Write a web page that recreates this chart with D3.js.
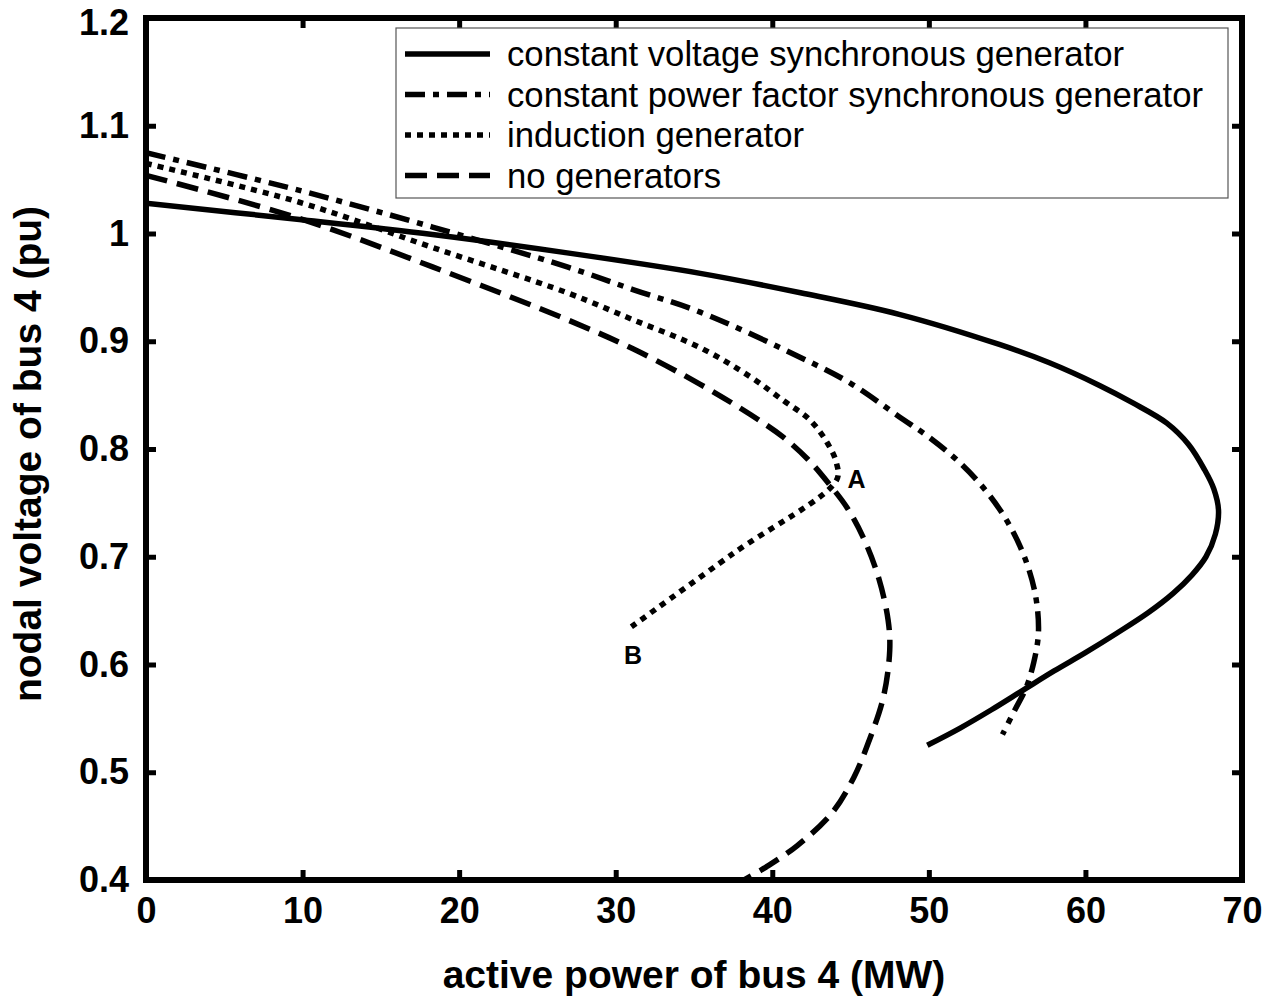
<!DOCTYPE html>
<html>
<head>
<meta charset="utf-8">
<script src="https://cdn.jsdelivr.net/npm/d3@7/dist/d3.min.js"></script>
<style>
  html, body { margin: 0; padding: 0; background: #fff; }
  svg { display: block; }
  text { font-family: "Liberation Sans", Arial, sans-serif; }
</style>
</head>
<body>
<svg id="chart" width="1264" height="998"></svg>
<script>
// P-V curves at bus 4: active power (MW) vs nodal voltage (pu)
const constVoltageP = [0, 9.8, 18.3, 26.9, 35.4, 41.8, 48.1, 54.5, 57.7, 60.9, 63.0, 65.2, 66.6, 67.6, 68.2, 68.5, 68.3, 67.7, 66.8, 65.6, 64.0, 62.0, 60.0, 58.0, 56.0, 54.0, 52.0, 49.9];
const constVoltageV = [1.028, 1.013, 0.999, 0.982, 0.963, 0.945, 0.925, 0.897, 0.880, 0.859, 0.843, 0.824, 0.804, 0.781, 0.763, 0.743, 0.721, 0.700, 0.683, 0.666, 0.648, 0.629, 0.611, 0.594, 0.576, 0.558, 0.541, 0.525];

const constPfP = [0, 9.8, 18.3, 26.9, 31.1, 35.4, 41.8, 45.0, 48.1, 50.1, 52.0, 53.6, 55.0, 56.1, 56.8, 57.0, 56.7, 56.2, 55.5, 54.7];
const constPfV = [1.075, 1.040, 1.006, 0.969, 0.948, 0.927, 0.885, 0.861, 0.830, 0.810, 0.787, 0.762, 0.733, 0.700, 0.665, 0.630, 0.602, 0.578, 0.558, 0.535];

const inductionP = [0, 9.8, 18.3, 26.9, 31.1, 35.4, 38.6, 40.7, 42.4, 43.5, 44.1, 44.1, 37.5, 31.0];
const inductionV = [1.065, 1.029, 0.987, 0.945, 0.920, 0.894, 0.867, 0.845, 0.827, 0.806, 0.787, 0.771, 0.703, 0.635];

const noGenP = [0, 9.8, 18.3, 26.9, 31.1, 35.4, 38.6, 40.7, 42.3, 43.6, 44.8, 45.9, 46.8, 47.4, 47.5, 47.1, 46.2, 45.2, 43.8, 41.6, 39.6, 38.2];
const noGenV = [1.054, 1.014, 0.969, 0.920, 0.893, 0.860, 0.832, 0.811, 0.790, 0.768, 0.745, 0.715, 0.680, 0.641, 0.613, 0.570, 0.530, 0.495, 0.462, 0.432, 0.412, 0.400];

const seriesNames = [
  "constant voltage synchronous generator",
  "constant power factor synchronous generator",
  "induction generator",
  "no generators"
];

const xTicks = [0, 10, 20, 30, 40, 50, 60, 70];
const yTicks = [0.4, 0.5, 0.6, 0.7, 0.8, 0.9, 1, 1.1, 1.2];

const pointLabels = [
  { name: "A", p: 44.8, v: 0.772 },
  { name: "B", p: 31.1, v: 0.609 }
];

const dashes = ["none", "20,8,6,8", "6,6", "22,10"];

const svg = d3.select("#chart");
const margin = { left: 146, right: 22, top: 18, bottom: 118 };
const W = 1264, H = 998;
const x = d3.scaleLinear().domain([0, 70]).range([margin.left, W - margin.right]);
const y = d3.scaleLinear().domain([0.4, 1.2]).range([H - margin.bottom, margin.top]);

const series = [
  { name: seriesNames[0], p: constVoltageP, v: constVoltageV, dash: dashes[0] },
  { name: seriesNames[1], p: constPfP, v: constPfV, dash: dashes[1] },
  { name: seriesNames[2], p: inductionP, v: inductionV, dash: dashes[2] },
  { name: seriesNames[3], p: noGenP, v: noGenV, dash: dashes[3] }
];

const line = d3.line()
  .x(d => x(d[0]))
  .y(d => y(d[1]))
  .curve(d3.curveCatmullRom.alpha(0.5));

svg.append("clipPath").attr("id", "clip").append("rect")
  .attr("x", x(0)).attr("y", y(1.2)).attr("width", x(70) - x(0)).attr("height", y(0.4) - y(1.2));

const curves = svg.append("g").attr("clip-path", "url(#clip)");
series.forEach(s => {
  curves.append("path")
    .datum(s.p.map((p, i) => [p, s.v[i]]))
    .attr("d", line)
    .attr("fill", "none")
    .attr("stroke", "#000")
    .attr("stroke-width", 5.5)
    .attr("stroke-dasharray", s.dash);
});

// point labels
pointLabels.forEach(l => {
  svg.append("text")
    .attr("x", x(l.p))
    .attr("y", y(l.v))
    .attr("font-size", 25)
    .attr("font-weight", "bold")
    .attr("dominant-baseline", "central")
    .attr("text-anchor", l.name === "B" ? "middle" : "start")
    .text(l.name);
});

// axes with inward ticks on all four sides
const tickLen = 10;
const fmtY = d => (d === 1 ? "1" : d3.format(".1f")(d));
const xAxis = svg.append("g").attr("transform", `translate(0,${y(0.4)})`)
  .call(d3.axisBottom(x).tickValues(xTicks).tickSizeInner(-tickLen).tickSizeOuter(0).tickPadding(17).tickFormat(d3.format("d")));
const xAxisTop = svg.append("g").attr("transform", `translate(0,${y(1.2)})`)
  .call(d3.axisTop(x).tickValues(xTicks).tickSizeInner(-tickLen).tickSizeOuter(0).tickFormat(""));
const yAxis = svg.append("g").attr("transform", `translate(${x(0)},0)`)
  .call(d3.axisLeft(y).tickValues(yTicks).tickSizeInner(-tickLen).tickSizeOuter(0).tickPadding(17).tickFormat(fmtY));
const yAxisRight = svg.append("g").attr("transform", `translate(${x(70)},0)`)
  .call(d3.axisRight(y).tickValues(yTicks).tickSizeInner(-tickLen).tickSizeOuter(0).tickFormat(""));

[xAxis, xAxisTop, yAxis, yAxisRight].forEach(g => {
  g.select(".domain").remove();
  g.selectAll(".tick line").attr("stroke", "#000").attr("stroke-width", 5);
  g.selectAll(".tick text")
    .attr("font-family", "'Liberation Sans', Arial, sans-serif")
    .attr("font-size", 36)
    .attr("font-weight", "bold")
    .attr("fill", "#000");
});
// keep the topmost y label inside the page
yAxis.selectAll(".tick").filter(d => d === 1.2).select("text").attr("dy", "0.45em");

// frame
svg.append("rect")
  .attr("x", x(0)).attr("y", y(1.2))
  .attr("width", x(70) - x(0)).attr("height", y(0.4) - y(1.2))
  .attr("fill", "none").attr("stroke", "#000").attr("stroke-width", 6);

// legend
const lg = svg.append("g");
lg.append("rect")
  .attr("x", 396).attr("y", 28).attr("width", 832).attr("height", 170)
  .attr("fill", "#fff").attr("stroke", "#555").attr("stroke-width", 1.2);
series.forEach((s, i) => {
  const yy = 54 + i * 40.5;
  lg.append("line")
    .attr("x1", 405).attr("x2", 490).attr("y1", yy).attr("y2", yy)
    .attr("stroke", "#000").attr("stroke-width", 5.5)
    .attr("stroke-dasharray", s.dash);
  lg.append("text")
    .attr("x", 507).attr("y", yy)
    .attr("dominant-baseline", "central")
    .attr("font-size", 34.7)
    .text(s.name);
});

// axis titles
svg.append("text")
  .attr("x", (x(0) + x(70)) / 2).attr("y", 988)
  .attr("text-anchor", "middle")
  .attr("font-size", 39).attr("font-weight", "bold")
  .text("active power of bus 4 (MW)");
svg.append("text")
  .attr("transform", `translate(41,${(y(0.4) + y(1.2)) / 2 + 5}) rotate(-90)`)
  .attr("text-anchor", "middle")
  .attr("font-size", 39).attr("font-weight", "bold")
  .text("nodal voltage of bus 4 (pu)");
</script>
</body>
</html>
